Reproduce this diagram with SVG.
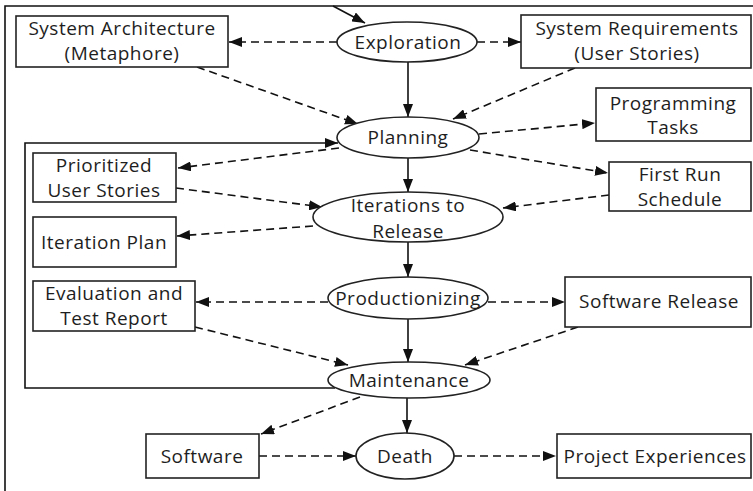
<svg xmlns="http://www.w3.org/2000/svg" width="753" height="491" viewBox="0 0 753 491">
  <style>
    .box { fill: #ffffff; stroke: #222222; stroke-width: 1.6; }
    .oval { fill: #ffffff; stroke: #222222; stroke-width: 1.6; }
    .lbl { font-family: "Open Sans", "Liberation Sans", sans-serif; font-size: 19px; letter-spacing: 0.5px; fill: #1e1e1e; text-anchor: middle; }
    .solid { fill: none; stroke: #111111; stroke-width: 1.6; marker-end: url(#head); }
    .dash { fill: none; stroke: #111111; stroke-width: 1.6; stroke-dasharray: 8 5; marker-end: url(#head); }
    .plain { fill: none; stroke: #111111; stroke-width: 1.6; }
  </style>
  <defs>
    <marker id="head" markerUnits="userSpaceOnUse" markerWidth="14" markerHeight="10" refX="13" refY="5" orient="auto">
      <path d="M0,0 L13,5 L0,10 z" fill="#111111"/>
    </marker>
  </defs>

  <rect x="0" y="0" width="753" height="491" fill="#ffffff"/>
  <!-- outer frame (top and left edges) -->
  <path class="plain" d="M5,491 L5,6 L753,6" stroke-width="2"/>

  <g id="connectors">
    <!-- main flow -->
    <path class="solid" d="M333,6 L365,23"/>
    <path class="solid" d="M408,62 L408,117"/>
    <path class="solid" d="M408,158 L408,192"/>
    <path class="solid" d="M408,242 L408,277"/>
    <path class="solid" d="M408,319 L408,362"/>
    <path class="solid" d="M407,398 L407,433"/>
    <!-- feedback loop from Maintenance back to Planning -->
    <path class="solid" d="M335,388 L25,388 L25,143 L338,143"/>
    <!-- work products -->
    <path class="dash" d="M337,42 L229,42"/>
    <path class="dash" d="M477,42 L521,42"/>
    <path class="dash" d="M197,67 L358,124"/>
    <path class="dash" d="M575,68 L453,119"/>
    <path class="dash" d="M479,134 L595,123"/>
    <path class="dash" d="M339,148 L178,168"/>
    <path class="dash" d="M470,150 L608,173"/>
    <path class="dash" d="M176,188 L322,207"/>
    <path class="dash" d="M609,195 L503,208"/>
    <path class="dash" d="M313,226 L177,236"/>
    <path class="dash" d="M328,302 L196,302"/>
    <path class="dash" d="M488,302 L565,302"/>
    <path class="dash" d="M195,327 L348,365"/>
    <path class="dash" d="M578,327 L465,365"/>
    <path class="dash" d="M360,397 L261,434"/>
    <path class="dash" d="M259,456 L356,456"/>
    <path class="dash" d="M454,456 L556,456"/>
  </g>

  <!-- phases -->
  <g id="exploration">
    <ellipse class="oval" cx="407" cy="42" rx="70" ry="20"/>
    <text class="lbl" x="408" y="49">Exploration</text>
  </g>
  <g id="planning">
    <ellipse class="oval" cx="408" cy="137.5" rx="71" ry="20.5"/>
    <text class="lbl" x="408" y="144">Planning</text>
  </g>
  <g id="iterations">
    <ellipse class="oval" cx="408" cy="217" rx="95" ry="25"/>
    <text class="lbl" x="408" y="212">Iterations to</text>
    <text class="lbl" x="408" y="238">Release</text>
  </g>
  <g id="productionizing">
    <ellipse class="oval" cx="408" cy="298" rx="80" ry="21"/>
    <text class="lbl" x="408" y="305">Productionizing</text>
  </g>
  <g id="maintenance">
    <ellipse class="oval" cx="409" cy="380" rx="81" ry="18"/>
    <text class="lbl" x="409" y="387">Maintenance</text>
  </g>
  <g id="death">
    <ellipse class="oval" cx="405" cy="456" rx="49" ry="23"/>
    <text class="lbl" x="405" y="463">Death</text>
  </g>

  <!-- artifacts -->
  <g id="system-architecture">
    <rect class="box" x="16" y="16" width="212" height="51"/>
    <text class="lbl" x="122" y="35">System Architecture</text>
    <text class="lbl" x="122" y="60">(Metaphore)</text>
  </g>
  <g id="system-requirements">
    <rect class="box" x="521" y="15" width="230" height="53"/>
    <text class="lbl" x="637" y="35">System Requirements</text>
    <text class="lbl" x="637" y="60">(User Stories)</text>
  </g>
  <g id="programming-tasks">
    <rect class="box" x="596" y="88" width="155" height="53"/>
    <text class="lbl" x="673" y="110">Programming</text>
    <text class="lbl" x="673" y="134">Tasks</text>
  </g>
  <g id="prioritized-user-stories">
    <rect class="box" x="33" y="153" width="143" height="49"/>
    <text class="lbl" x="104" y="172">Prioritized</text>
    <text class="lbl" x="104" y="197">User Stories</text>
  </g>
  <g id="first-run-schedule">
    <rect class="box" x="609" y="162" width="142" height="49"/>
    <text class="lbl" x="680" y="181">First Run</text>
    <text class="lbl" x="680" y="206">Schedule</text>
  </g>
  <g id="iteration-plan">
    <rect class="box" x="33" y="217" width="143" height="50"/>
    <text class="lbl" x="104" y="249">Iteration Plan</text>
  </g>
  <g id="evaluation-report">
    <rect class="box" x="33" y="281" width="162" height="50"/>
    <text class="lbl" x="114" y="300">Evaluation and</text>
    <text class="lbl" x="114" y="325">Test Report</text>
  </g>
  <g id="software-release">
    <rect class="box" x="565" y="277" width="186" height="50"/>
    <text class="lbl" x="659" y="308">Software Release</text>
  </g>
  <g id="software">
    <rect class="box" x="146" y="434" width="113" height="44"/>
    <text class="lbl" x="202" y="463">Software</text>
  </g>
  <g id="project-experiences">
    <rect class="box" x="557" y="434" width="194" height="44"/>
    <text class="lbl" x="655" y="463">Project Experiences</text>
  </g>
</svg>
